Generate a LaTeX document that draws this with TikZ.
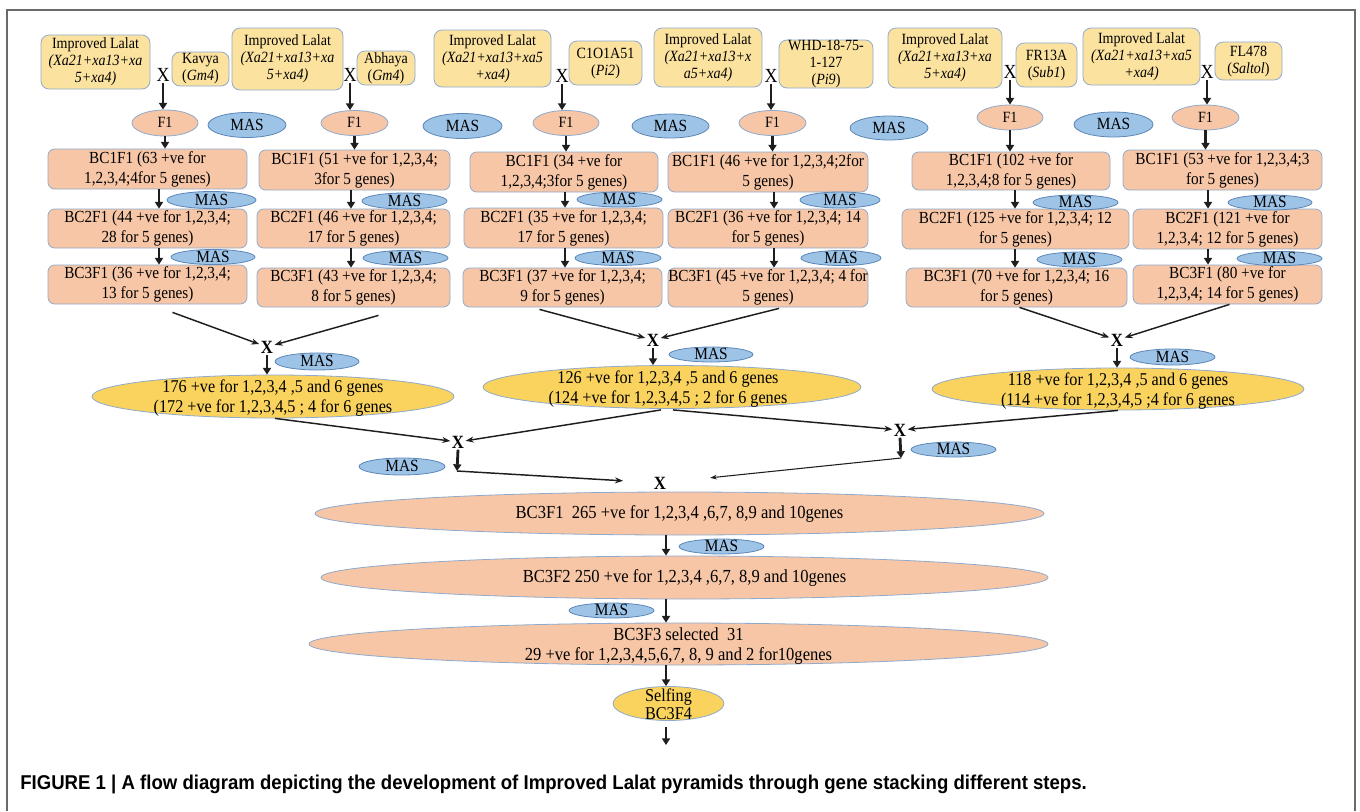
\documentclass[tikz,border=0pt]{standalone}
\usepackage{fontspec}
\setmainfont[FakeStretch=0.9]{Liberation Serif}
\newfontfamily\capfont[FakeStretch=0.93]{Liberation Sans}
\usetikzlibrary{shapes.geometric,arrows.meta,calc}
\definecolor{ylw}{HTML}{FBE29F}
\definecolor{gold}{HTML}{F9D35E}
\definecolor{sal}{HTML}{F6C6A6}
\definecolor{masf}{HTML}{9DC3E6}
\definecolor{masb}{HTML}{5B86B8}
\definecolor{bord}{HTML}{8FAACC}
\definecolor{ink}{HTML}{1E1E1E}
\definecolor{framec}{HTML}{6A6A6A}
\tikzset{
 sz/.style 2 args={minimum width={#1*0.75pt},minimum height={#2*0.75pt}},
 ybox/.style={draw=bord, fill=ylw, rounded corners=6pt, inner sep=0pt, align=center, font=\fontsize{11.7}{12.75}\selectfont, line width=0.6pt},
 sbox/.style={draw=bord, fill=sal, rounded corners=5pt, inner sep=0pt, align=center, font=\fontsize{12.7}{15}\selectfont, line width=0.6pt},
 fone/.style={ellipse, draw=bord, fill=sal, inner sep=0pt, line width=0.6pt, text height=7pt, text depth=0pt, font=\fontsize{11.7}{12}\selectfont},
 mas/.style={ellipse, draw=masb, fill=masf, inner sep=0pt, line width=0.6pt, text height=7.5pt, text depth=0pt, font=\fontsize{12.8}{13}\selectfont},
 yell/.style={ellipse, draw=bord, fill=gold, inner sep=0pt, line width=0.6pt},
 sell/.style={ellipse, draw=bord, fill=sal, inner sep=0pt, line width=0.6pt},
 etxt/.style={inner sep=0pt, align=center, font=\fontsize{13.5}{15}\selectfont},
 crossx/.style={inner sep=1pt, font=\fontsize{15}{14}\selectfont},
 crossb/.style={inner sep=1pt, font=\bfseries\fontsize{14}{14}\selectfont},
 thk/.style={line width=2.1pt, draw=ink, -{Triangle[length=5pt,width=6pt]}},
 thn/.style={line width=1.1pt, draw=ink, -{Stealth[length=6pt,width=4.5pt]}},
 thnn/.style={line width=0.8pt, draw=ink, -{Stealth[length=5pt,width=3.5pt]}},
}
\begin{document}
\begin{tikzpicture}[x=0.75pt,y=-0.75pt]
\useasboundingbox (0,0) rectangle (1360,811);
\draw[framec, line width=1.4pt] (7,811) -- (7,10) -- (1355,10) -- (1355,811);

% ---------- group 1
\node[ybox, sz={109}{54}] (il1) at (95.5,62) {Improved Lalat\\\textit{(Xa21+xa13+xa}\\\textit{5+xa4)}};
\node[crossx] (x1) at (163,75) {X};
\node[ybox, sz={57}{34}] (cv1) at (200.5,69) {Kavya\\(\textit{Gm4})};
\node[fone, sz={66}{26}] (f11) at (165,123) {F1};
\node[mas, sz={78}{25}] (mt1) at (247,125) {MAS};
\node[sbox, sz={199}{40}] (b11) at (147.5,169) {BC1F1 (63 +ve for\\1,2,3,4;4for 5 genes)};
\node[sbox, sz={199}{39}] (b21) at (147.5,228.5) {BC2F1 (44 +ve for 1,2,3,4;\\28 for 5 genes)};
\node[sbox, sz={199}{39}] (b31) at (147.5,284.5) {BC3F1 (36 +ve for 1,2,3,4;\\13 for 5 genes)};
\node[mas, sz={89}{17}] (m11) at (211.5,200) {MAS};
\node[mas, sz={84}{15}] (m21) at (213,257) {MAS};
\coordinate (c1) at (159,0);

% ---------- group 2
\node[ybox, sz={111}{62}] (il2) at (287.5,59) {Improved Lalat\\\textit{(Xa21+xa13+xa}\\\textit{5+xa4)}};
\node[crossx] (x2) at (350,75) {X};
\node[ybox, sz={58}{34}] (cv2) at (386,68) {Abhaya\\(\textit{Gm4})};
\node[fone, sz={67}{25}] (f12) at (354.5,123) {F1};
\node[mas, sz={79}{25}] (mt2) at (462.5,126) {MAS};
\node[sbox, sz={191}{40}] (b12) at (354.5,170) {BC1F1 (51 +ve for 1,2,3,4;\\3for 5 genes)};
\node[sbox, sz={193}{39}] (b22) at (353.5,228.5) {BC2F1 (46 +ve for 1,2,3,4;\\17 for 5 genes)};
\node[sbox, sz={193}{39}] (b32) at (353.5,287.5) {BC3F1 (43 +ve for 1,2,3,4;\\8 for 5 genes)};
\node[mas, sz={85}{16}] (m12) at (404.5,201) {MAS};
\node[mas, sz={85}{15}] (m22) at (405.5,258) {MAS};
\coordinate (c2) at (351,0);

% ---------- group 3
\node[ybox, sz={117}{57}] (il3) at (492.5,58.5) {Improved Lalat\\\textit{(Xa21+xa13+xa5}\\\textit{+xa4)}};
\node[crossx] (x3) at (562,76) {X};
\node[ybox, sz={73}{44}] (cv3) at (605.5,63) {C1O1A51\\(\textit{Pi2})};
\node[fone, sz={66}{25}] (f13) at (566,123) {F1};
\node[mas, sz={77}{24}] (mt3) at (670.5,126) {MAS};
\node[sbox, sz={188}{40}] (b13) at (564,172) {BC1F1 (34 +ve for\\1,2,3,4;3for 5 genes)};
\node[sbox, sz={199}{40}] (b23) at (563.5,228) {BC2F1 (35 +ve for 1,2,3,4;\\17 for 5 genes)};
\node[sbox, sz={199}{39}] (b33) at (562.5,287.5) {BC3F1 (37 +ve for 1,2,3,4;\\9 for 5 genes)};
\node[mas, sz={85}{15}] (m13) at (619.5,199.5) {MAS};
\node[mas, sz={86}{15}] (m23) at (618,258) {MAS};
\coordinate (c3) at (565,0);

% ---------- group 4
\node[ybox, sz={108}{59}] (il4) at (708,57.5) {Improved Lalat\\\textit{(Xa21+xa13+x}\\\textit{a5+xa4)}};
\node[crossx] (x4) at (771,76) {X};
\node[ybox, sz={94}{48}] (cv4) at (826,64) {WHD-18-75-\\1-127\\(\textit{Pi9})};
\node[fone, sz={67}{25}] (f14) at (772.5,123) {F1};
\node[mas, sz={78}{24}] (mt4) at (889,128) {MAS};
\node[sbox, sz={200}{40}] (b14) at (768,172) {BC1F1 (46 +ve for 1,2,3,4;2for\\5 genes)};
\node[sbox, sz={200}{39}] (b24) at (768,228.5) {BC2F1 (36 +ve for 1,2,3,4; 14\\for 5 genes)};
\node[sbox, sz={200}{39}] (b34) at (768,287.5) {BC3F1 (45 +ve for 1,2,3,4; 4 for\\5 genes)};
\node[mas, sz={80}{16}] (m14) at (840,200) {MAS};
\node[mas, sz={80}{15}] (m24) at (841,258) {MAS};
\coordinate (c4) at (774,0);

% ---------- group 5
\node[ybox, sz={114}{60}] (il5) at (945,58) {Improved Lalat\\\textit{(Xa21+xa13+xa}\\\textit{5+xa4)}};
\node[crossx] (x5) at (1010,72) {X};
\node[ybox, sz={61}{44}] (cv5) at (1046.5,65) {FR13A\\(\textit{Sub1})};
\node[fone, sz={66}{25}] (f15) at (1010,117.5) {F1};
\node[mas, sz={79}{25}] (mt5) at (1113.5,124.5) {MAS};
\node[sbox, sz={198}{38}] (b15) at (1011,171) {BC1F1 (102 +ve for\\1,2,3,4;8 for 5 genes)};
\node[sbox, sz={227}{40}] (b25) at (1015.5,229) {BC2F1 (125 +ve for 1,2,3,4; 12\\for 5 genes)};
\node[sbox, sz={221}{39}] (b35) at (1016.5,287.5) {BC3F1 (70 +ve for 1,2,3,4; 16\\for 5 genes)};
\node[mas, sz={85}{15}] (m15) at (1075.5,202.5) {MAS};
\node[mas, sz={85}{15}] (m25) at (1079.5,259.5) {MAS};
\coordinate (c5) at (1015,0);

% ---------- group 6
\node[ybox, sz={117}{57}] (il6) at (1141.5,56.5) {Improved Lalat\\\textit{(Xa21+xa13+xa5}\\\textit{+xa4)}};
\node[crossx] (x6) at (1207,72) {X};
\node[ybox, sz={67}{38}] (cv6) at (1248.5,61) {FL478\\(\textit{Saltol})};
\node[fone, sz={67}{25}] (f16) at (1205.5,117.5) {F1};
\node[sbox, sz={199}{40}] (b16) at (1222.5,170) {BC1F1 (53 +ve for 1,2,3,4;3\\for 5 genes)};
\node[sbox, sz={189}{40}] (b26) at (1227.5,229) {BC2F1 (121 +ve for\\1,2,3,4; 12 for 5 genes)};
\node[sbox, sz={189}{39}] (b36) at (1227.5,284.5) {BC3F1 (80 +ve for\\1,2,3,4; 14 for 5 genes)};
\node[mas, sz={84}{15}] (m16) at (1270,202.5) {MAS};
\node[mas, sz={85}{14}] (m26) at (1279.5,258.5) {MAS};
\coordinate (c6) at (1208,0);

% ---------- top arrows
\foreach \i in {1,...,6}{
  \draw[thk] (x\i.south) -- (x\i.south |- f1\i.north);
  \draw[thk, line width=1.6pt] (f1\i.south) -- (b1\i.north -| f1\i.south);
  \draw[thk] (b1\i.south -| c\i) -- (b2\i.north -| c\i);
  \draw[thk] (b2\i.south -| c\i) -- (b3\i.north -| c\i);
}

% ---------- middle level
\node[crossb] (xa) at (267,347) {X};
\node[crossb] (xb) at (653,340) {X};
\node[crossb] (xc) at (1117,340) {X};
\node[yell, sz={362}{43}] (ya) at (273,396.5) {};
\node[etxt] (yat) at (273,398) {176 +ve for 1,2,3,4 ,5 and 6 genes\\(172 +ve for 1,2,3,4,5 ; 4 for 6 genes};
\node[yell, sz={378}{43}] (yb) at (672,387) {};
\node[etxt] (ybt) at (668,389.5) {126 +ve for 1,2,3,4 ,5 and 6 genes\\(124 +ve for 1,2,3,4,5 ; 2 for 6 genes};
\node[yell, sz={372}{42}] (yc) at (1118,389) {};
\node[etxt] (yct) at (1118,391) {118 +ve for 1,2,3,4 ,5 and 6 genes\\(114 +ve for 1,2,3,4,5 ;4 for 6 genes};
\node[mas, sz={84}{17}] (mma) at (317,361.5) {MAS};
\node[mas, sz={84}{15}] (mmb) at (711,354.5) {MAS};
\node[mas, sz={85}{16}] (mmc) at (1172.5,357) {MAS};

\draw[thn] ($(b31.south)+(25,8)$) -- (xa);
\draw[thn] ($(b32.south)+(25,8)$) -- (xa);
\draw[thn] ($(b33.south)+(-23,2)$) -- (xb);
\draw[thn] ($(b34.south)+(11,1)$) -- (xb);
\draw[thn] ($(b35.south)+(3,0)$) -- (xc);
\draw[thn] ($(b36.south)+(2,0)$) -- (xc);
\draw[thk] (xa.south) -- (xa.south |- ya.north);
\draw[thk] (xb.south) -- (xb.south |- yb.north);
\draw[thk] (xc.south) -- (xc.south |- yc.north);

% ---------- second crossing level
\node[crossb] (xd) at (458,442) {X};
\node[crossb] (xe) at (900,430) {X};
\node[crossb] (xf) at (660,483) {X};
\node[mas, sz={86}{17}] (mmd) at (402,466.5) {MAS};
\node[mas, sz={85}{15}] (mme) at (953.5,449.5) {MAS};
\coordinate (cd) at (457,471);
\coordinate (ce) at (901,458);
\draw[thn] ($(ya.south)+(2,0)$) -- (xd);
\draw[thn] ($(yb.south)+(-11,1)$) -- (xd);
\draw[thn] ($(yb.south)+(1,1)$) -- (xe);
\draw[thn] (yc.south) -- (xe);
\draw[thk] (xd.south) -- (cd);
\draw[thk] (xe.south) -- (ce);
\draw[thn, shorten >=22pt] (cd) -- (xf);
\draw[thnn, shorten >=32pt] (ce) -- (xf);

% ---------- bottom chain
\node[sell, sz={729}{43}] (e1) at (679.5,513.5) {};
\node[etxt, font=\fontsize{13.8}{15}\selectfont] (e1t) at (679.5,514) {BC3F1\ \ 265 +ve for 1,2,3,4 ,6,7, 8,9 and 10genes};
\node[sell, sz={727}{43}] (e2) at (684.5,577.5) {};
\node[etxt, font=\fontsize{13.8}{15}\selectfont] (e2t) at (684.5,578) {BC3F2 250 +ve for 1,2,3,4 ,6,7, 8,9 and 10genes};
\node[sell, sz={739}{42}] (e3) at (678.5,644) {};
\node[etxt, font=\fontsize{13.8}{15}\selectfont] (e3t) at (678.5,646) {BC3F3 selected\ \ 31\\29 +ve for 1,2,3,4,5,6,7, 8, 9 and 2 for10genes};
\node[yell, sz={111}{34}] (sf) at (668.5,703.5) {};
\node[etxt, font=\fontsize{13.5}{13.5}\selectfont] (sft) at (668.5,704) {Selfing\\BC3F4};
\node[mas, sz={85}{15}] (mmf) at (721.5,546.5) {MAS};
\node[mas, sz={85}{15}] (mmg) at (611.5,610.5) {MAS};
\coordinate (col) at (666,0);
\coordinate (fin) at (666,745);
\draw[thk] (e1.south -| col) -- (e2.north -| col);
\draw[thk] (e2.south -| col) -- (e3.north -| col);
\draw[thk] (e3.south -| col) -- (sf.north -| col);
\draw[thk] ($(sf.south -| col)+(0,6)$) -- (fin);

% ---------- caption
\node[anchor=west, inner sep=0pt, font=\capfont\bfseries\fontsize{15}{17}\selectfont] (cap) at (20,784) {FIGURE 1 | A flow diagram depicting the development of Improved Lalat pyramids through gene stacking different steps.};
\end{tikzpicture}
\end{document}
